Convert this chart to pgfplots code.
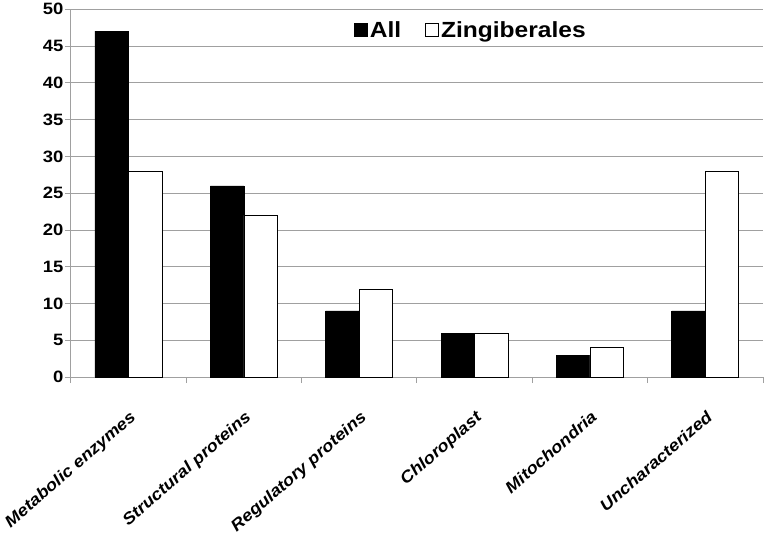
\documentclass[border=0pt]{standalone}
\usepackage{pgfplots}
\pgfplotsset{compat=1.18}
\usepackage{fontspec}
\setmainfont{Liberation Sans}[FakeStretch=1.12]
\definecolor{gridgray}{RGB}{160,160,160}
\begin{document}
\begin{tikzpicture}
\begin{axis}[
  scale only axis, width=692bp, height=368bp,
  ybar=0pt, bar width=0.29,
  ymin=0, ymax=50, ytick={0,5,...,50},
  xmin=-0.5, xmax=5.5,
  xtick={0,...,5},
  xticklabels={Metabolic enzymes, Structural proteins, Regulatory proteins, Chloroplast, Mitochondria, Uncharacterized},
  major x tick style={draw=none},
  extra x ticks={-0.5,0.5,...,5.5},
  extra x tick labels={},
  extra x tick style={grid=none, major tick length=6bp, tick align=outside, major x tick style={draw=gridgray, line width=0.8pt}},
  axis x line*=bottom, axis y line*=left,
  axis line style={draw=gridgray, line width=0.8pt},
  ymajorgrids, grid style={draw=gridgray, line width=0.8pt},
  tick align=outside, major tick length=6bp,
  ytick style={draw=gridgray, line width=0.8pt},
  /pgf/number format/assume math mode=true,
  yticklabel style={font=\fontsize{16.5}{16.5}\selectfont\bfseries, xshift=2bp},
  xticklabel style={rotate=41, anchor=north east, font=\fontsize{16.4}{20}\selectfont\bfseries\itshape, inner sep=2bp, yshift=-18bp, xshift=-15bp},
  legend style={at={(0.405,0.943)}, anchor=west, draw=none, fill=none, legend columns=2,
    font=\fontsize{22}{22}\selectfont\bfseries,
    /tikz/every even column/.append style={column sep=22bp}},
]
\addplot[fill=black, draw=black, line width=0.6pt,
  legend image code/.code={\draw[fill=black,draw=black] (0bp,-6.5bp) rectangle (13bp,6.5bp);}]
  coordinates {(0,47) (1,26) (2,9) (3,6) (4,3) (5,9)};
\addplot[fill=white, draw=black, line width=0.6pt,
  legend image code/.code={\draw[fill=white,draw=black,line width=0.8pt] (0bp,-6.5bp) rectangle (13bp,6.5bp);}]
  coordinates {(0,28) (1,22) (2,12) (3,6) (4,4) (5,28)};
\legend{All, Zingiberales}
\end{axis}
\end{tikzpicture}
\end{document}
